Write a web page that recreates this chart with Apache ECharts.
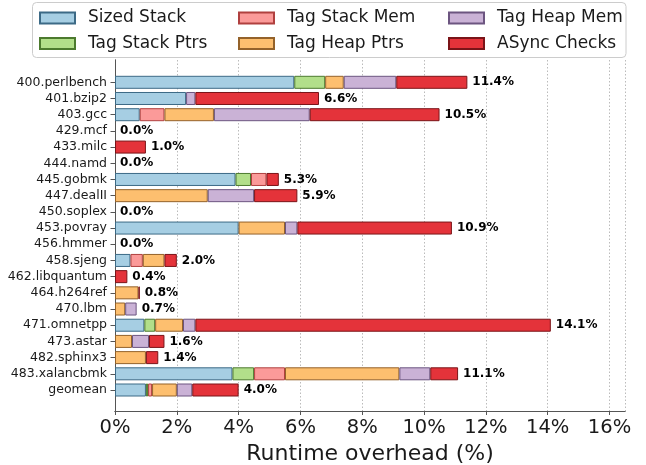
<!DOCTYPE html>
<html>
<head>
<meta charset="utf-8">
<script src="https://cdn.jsdelivr.net/npm/echarts@6/dist/echarts.min.js"></script>
<style>
  html, body { margin: 0; padding: 0; background: #fff; }
  #chart { width: 646px; height: 465px; }
</style>
</head>
<body>
<div id="chart"></div>
<script>
// Per-benchmark runtime overhead (%) split by instrumentation component.
const benchmarks = [
  '400.perlbench', '401.bzip2', '403.gcc', '429.mcf', '433.milc', '444.namd',
  '445.gobmk', '447.dealII', '450.soplex', '453.povray', '456.hmmer', '458.sjeng',
  '462.libquantum', '464.h264ref', '470.lbm', '471.omnetpp', '473.astar',
  '482.sphinx3', '483.xalancbmk', 'geomean'
];
const sizedStack    = [5.8, 2.3, 0.8, 0, 0,   0, 3.9, 0,   0, 4.0, 0, 0.5, 0,   0,    0,    0.95, 0,    0,   3.8, 1.0];
const tagStackPtrs  = [1.0, 0,   0,   0, 0,   0, 0.5, 0,   0, 0,   0, 0,   0,   0,    0,    0.35, 0,    0,   0.7, 0.07];
const tagStackMem   = [0,   0,   0.8, 0, 0,   0, 0.5, 0,   0, 0,   0, 0.4, 0,   0,    0,    0,    0,    0,   1.0, 0.13];
const tagHeapPtrs   = [0.6, 0,   1.6, 0, 0,   0, 0,   3.0, 0, 1.5, 0, 0.7, 0,   0.76, 0.33, 0.9,  0.55, 1.0, 3.7, 0.8];
const tagHeapMem    = [1.7, 0.3, 3.1, 0, 0,   0, 0,   1.5, 0, 0.4, 0, 0,   0,   0,    0.37, 0.4,  0.55, 0,   1.0, 0.5];
const asyncChecks   = [2.3, 4.0, 4.2, 0, 1.0, 0, 0.4, 1.4, 0, 5.0, 0, 0.4, 0.4, 0.04, 0,    11.5, 0.5,  0.4, 0.9, 1.5];

const seriesNames = ['Sized Stack', 'Tag Stack Ptrs', 'Tag Stack Mem', 'Tag Heap Ptrs', 'Tag Heap Mem', 'ASync Checks'];
const seriesValues = [sizedStack, tagStackPtrs, tagStackMem, tagHeapPtrs, tagHeapMem, asyncChecks];

// Fill and edge colours for each component.
const fills = ['#a6cee3', '#b2df8a', '#fb9a99', '#fdbf6f', '#cab2d6', '#e4333a'];
const edges = ['#3c6a86', '#4c7a2e', '#b0403f', '#94622a', '#6c5580', '#7a1418'];

// Total overhead per benchmark = sum of its components.
const totals = benchmarks.map((_, i) =>
  seriesValues.reduce((s, arr) => s + arr[i], 0));

const FONT = 'DejaVu Sans';
const FRAME = '#555555';

const chart = echarts.init(document.getElementById('chart'), null, { renderer: 'canvas' });

const barSeries = seriesNames.map((name, k) => ({
  name: name,
  type: 'bar',
  xAxisIndex: 2,
  yAxisIndex: 2,
  stack: 'overhead',
  barWidth: 13,
  data: seriesValues[k].map(v => (v > 0 ? v : '-')),
  itemStyle: { color: fills[k], borderColor: edges[k], borderWidth: 1 },
  emphasis: { disabled: true },
  animation: false
}));

// Zero-width bar on top of each stack that carries the total label.
barSeries.push({
  name: 'total',
  type: 'bar',
  xAxisIndex: 2,
  yAxisIndex: 2,
  stack: 'overhead',
  barWidth: 13,
  data: benchmarks.map(() => 0),
  itemStyle: { color: 'rgba(0,0,0,0)', borderWidth: 0 },
  label: {
    show: true,
    position: 'right',
    distance: 5,
    fontFamily: FONT,
    fontWeight: 'bold',
    fontSize: 12,
    color: '#000',
    formatter: p => totals[p.dataIndex].toFixed(1) + '%'
  },
  emphasis: { disabled: true },
  animation: false
});

const legendText = { fontFamily: FONT, fontSize: 17, color: '#1a1a1a', padding: [0, 0, 0, 8] };
function legendCol(left, names) {
  return {
    data: names,
    orient: 'vertical',
    left: left,
    top: 9.5,
    padding: 0,
    itemWidth: 35,
    itemHeight: 11,
    itemGap: 8.5,
    icon: 'rect',
    selectedMode: false,
    textStyle: legendText
  };
}

const option = {
  backgroundColor: '#ffffff',
  animation: false,
  textStyle: { fontFamily: FONT },
  graphic: [{
    type: 'rect',
    z: -1,
    shape: { x: 32.5, y: 2.5, width: 593.5, height: 55, r: 4 },
    style: { fill: 'rgba(255,255,255,0.8)', stroke: '#cccccc', lineWidth: 1 }
  }],
  legend: [
    legendCol(39, ['Sized Stack', 'Tag Stack Ptrs']),
    legendCol(238, ['Tag Stack Mem', 'Tag Heap Ptrs']),
    legendCol(448, ['Tag Heap Mem', 'ASync Checks'])
  ],
  grid: [
    // axes frame
    { left: 115, right: 21, top: 60, bottom: 54, outerBoundsMode: 'none', containLabel: false },
    // bar rows
    { left: 115, right: 21, top: 74.2, bottom: 66.9, outerBoundsMode: 'none', containLabel: false }
  ],
  xAxis: [
    {
      gridIndex: 0, type: 'value', position: 'bottom', min: 0, max: 16.5, interval: 2,
      axisLine: { show: true, lineStyle: { color: FRAME, width: 1 } },
      axisTick: { show: true, length: 4, lineStyle: { color: FRAME } },
      axisLabel: {
        show: true, fontFamily: FONT, fontSize: 19.5, color: '#1a1a1a', margin: 7,
        formatter: '{value}%', showMaxLabel: false
      },
      splitLine: { show: true, lineStyle: { color: '#bbbbbb', type: [1.5, 2], width: 1 } },
      name: 'Runtime overhead (%)',
      nameLocation: 'middle',
      nameGap: 28,
      nameTextStyle: { fontFamily: FONT, fontSize: 22, color: '#1a1a1a' }
    },
    {
      gridIndex: 0, type: 'value', position: 'top', min: 0, max: 16.5,
      axisLine: { show: true, lineStyle: { color: FRAME, width: 1 } },
      axisTick: { show: false }, axisLabel: { show: false }, splitLine: { show: false }
    },
    {
      gridIndex: 1, type: 'value', min: 0, max: 16.5, show: false,
      splitLine: { show: false }
    }
  ],
  yAxis: [
    {
      gridIndex: 0, type: 'value', position: 'left', min: 0, max: 1,
      axisLine: { show: true, lineStyle: { color: FRAME, width: 1 } },
      axisTick: { show: false }, axisLabel: { show: false }, splitLine: { show: false }
    },
    {
      gridIndex: 0, type: 'value', position: 'right', min: 0, max: 1,
      axisLine: { show: true, lineStyle: { color: FRAME, width: 1 } },
      axisTick: { show: false }, axisLabel: { show: false }, splitLine: { show: false }
    },
    {
      gridIndex: 1, type: 'category', data: benchmarks, inverse: true,
      axisLine: { show: false },
      axisTick: { show: true, alignWithLabel: true, length: 4.5, lineStyle: { color: FRAME } },
      axisLabel: { fontFamily: FONT, fontSize: 12.5, color: '#1a1a1a', margin: 8, interval: 0 },
      splitLine: { show: false }
    }
  ],
  series: barSeries
};

chart.setOption(option);
</script>
</body>
</html>
